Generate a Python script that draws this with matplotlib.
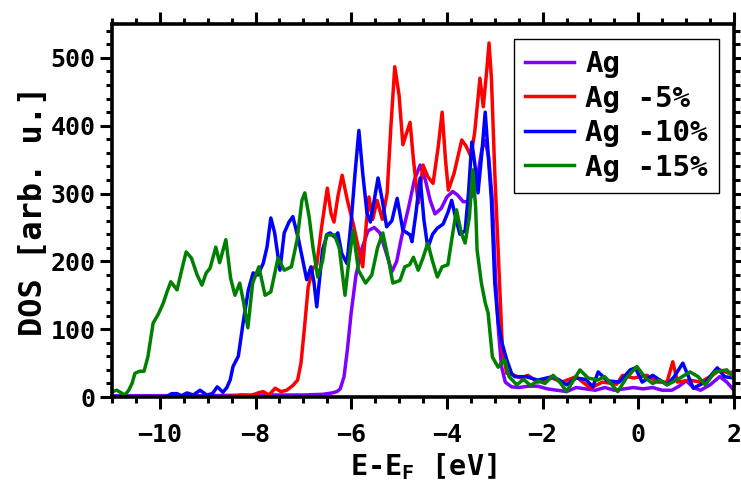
import matplotlib
matplotlib.use('Agg')
import matplotlib.pyplot as plt
from matplotlib.ticker import MultipleLocator

plt.rcParams['font.family'] = 'DejaVu Sans Mono'
plt.rcParams['font.weight'] = 'bold'
plt.rcParams['mathtext.default'] = 'regular'

# Ag (unstrained)
e_ag = [-11.0, -10.0, -9.0, -8.0, -7.5, -7.0, -6.6, -6.4, -6.3, -6.23, -6.15, -6.08, -6.0, -5.9,
        -5.78, -5.65, -5.52, -5.4, -5.28, -5.15, -5.05, -4.95, -4.8, -4.68, -4.56, -4.45, -4.35,
        -4.25, -4.12, -4.0, -3.88, -3.78, -3.66, -3.55, -3.45, -3.35, -3.27, -3.2, -3.13, -3.05,
        -2.98, -2.92, -2.86, -2.78, -2.65, -2.5, -2.3, -2.1, -1.9, -1.7, -1.5, -1.3, -1.1, -0.9,
        -0.7, -0.5, -0.3, -0.1, 0.1, 0.3, 0.5, 0.7, 0.85, 1.0, 1.15, 1.3, 1.5, 1.7, 1.85, 2.0]
dos_ag = [2, 2, 2, 3, 3, 3, 4, 6, 8, 12, 30, 70, 125, 180,
          218, 245, 250, 242, 215, 185, 200, 235, 280, 320, 342, 320, 290,
          270, 278, 295, 303, 298, 288, 288, 300, 330, 365, 378, 355, 290,
          170, 95, 45, 22, 15, 14, 16, 16, 12, 10, 8, 14, 12, 10,
          14, 10, 12, 14, 12, 14, 10, 10, 16, 24, 14, 10, 18, 30, 22, 10]

# Ag -5%
e_ag5 = [-11.0, -10.0, -9.0, -8.5, -8.3, -8.1, -7.95, -7.84, -7.72, -7.59, -7.47, -7.35, -7.22,
         -7.12, -7.05, -6.98, -6.9, -6.8, -6.72, -6.62, -6.5, -6.42, -6.36, -6.28, -6.19, -6.08,
         -5.96, -5.85, -5.76, -5.68, -5.63, -5.55, -5.46, -5.35, -5.25, -5.17, -5.09, -5.0, -4.92,
         -4.84, -4.77, -4.7, -4.6, -4.5, -4.4, -4.29, -4.18, -4.1, -4.03, -3.97, -3.85, -3.69,
         -3.6, -3.5, -3.42, -3.31, -3.24, -3.17, -3.12, -3.07, -3.0, -2.95, -2.9, -2.84, -2.75,
         -2.6, -2.45, -2.31, -2.1, -1.8, -1.6, -1.3, -1.0, -0.75, -0.45, -0.33, -0.1, 0.18, 0.4,
         0.6, 0.72, 0.82, 1.08, 1.3, 1.55, 1.7, 1.9, 2.0]
dos_ag5 = [0, 0, 0, 1, 3, 2, 6, 8, 3, 13, 8, 10, 17,
           25, 50, 100, 162, 190, 195, 250, 308, 270, 258, 295, 327, 290,
           256, 220, 192, 260, 295, 262, 290, 262, 300, 400, 487, 445, 372,
           390, 405, 350, 286, 342, 325, 315, 370, 420, 350, 305, 330, 379,
           370, 355, 390, 470, 428, 480, 522, 470, 330, 250, 168, 69, 35,
           32, 28, 32, 22, 28, 22, 30, 13, 22, 19, 32, 28, 32, 22,
           22, 52, 22, 25, 22, 32, 40, 35, 38]

# Ag -10%
e_ag10 = [-11.0, -10.0, -9.85, -9.75, -9.64, -9.55, -9.43, -9.3, -9.16, -9.02, -8.9, -8.8, -8.68,
          -8.6, -8.53, -8.47, -8.36, -8.26, -8.15, -8.05, -7.95, -7.84, -7.76, -7.68, -7.6, -7.49,
          -7.4, -7.3, -7.22, -7.1, -6.93, -6.84, -6.78, -6.72, -6.6, -6.5, -6.44, -6.35, -6.28,
          -6.2, -6.09, -6.0, -5.92, -5.84, -5.76, -5.67, -5.6, -5.52, -5.44, -5.35, -5.26, -5.15,
          -5.04, -4.92, -4.77, -4.73, -4.65, -4.56, -4.48, -4.4, -4.3, -4.2, -4.08, -3.98, -3.9,
          -3.82, -3.73, -3.62, -3.55, -3.48, -3.42, -3.35, -3.27, -3.2, -3.14, -3.07, -3.0, -2.93,
          -2.85, -2.75, -2.65, -2.58, -2.35, -2.1, -1.8, -1.65, -1.5, -1.3, -1.1, -0.95, -0.84,
          -0.65, -0.4, -0.17, -0.06, 0.08, 0.3, 0.6, 0.75, 0.93, 1.15, 1.4, 1.65, 1.8, 2.0]
dos_ag10 = [0, 0, 1, 5, 5, 2, 6, 3, 10, 3, 5, 15, 7,
            14, 25, 45, 60, 109, 158, 183, 180, 197, 221, 264, 242, 187,
            242, 258, 266, 232, 173, 192, 170, 133, 217, 240, 242, 236, 242,
            212, 197, 260, 330, 393, 330, 271, 258, 290, 323, 290, 251, 260,
            293, 246, 239, 229, 270, 323, 261, 220, 240, 249, 255, 272, 290,
            265, 240, 245, 300, 376, 345, 301, 360, 420, 360, 290, 168, 110,
            80, 55, 35, 30, 30, 25, 30, 25, 18, 28, 26, 15, 37,
            24, 22, 40, 43, 22, 32, 18, 30, 50, 13, 22, 43, 30, 28]

# Ag -15%
e_ag15 = [-11.0, -10.9, -10.8, -10.73, -10.65, -10.58, -10.52, -10.42, -10.33, -10.25, -10.14,
          -10.04, -9.93, -9.85, -9.77, -9.64, -9.55, -9.45, -9.34, -9.22, -9.12, -9.03, -8.95,
          -8.83, -8.75, -8.62, -8.52, -8.43, -8.33, -8.25, -8.16, -8.06, -7.93, -7.8, -7.68, -7.53,
          -7.4, -7.25, -7.13, -7.03, -6.97, -6.88, -6.8, -6.7, -6.6, -6.52, -6.35, -6.25, -6.13,
          -6.05, -5.96, -5.85, -5.7, -5.57, -5.45, -5.34, -5.22, -5.13, -4.98, -4.88, -4.78, -4.7,
          -4.6, -4.5, -4.4, -4.3, -4.2, -4.1, -3.98, -3.9, -3.8, -3.7, -3.62, -3.53, -3.46, -3.4,
          -3.37, -3.28, -3.2, -3.14, -3.05, -2.93, -2.84, -2.79, -2.7, -2.54, -2.4, -2.25, -2.1,
          -1.95, -1.78, -1.62, -1.5, -1.22, -1.05, -0.85, -0.7, -0.55, -0.43, -0.25, -0.03, 0.15,
          0.3, 0.45, 0.6, 0.8, 1.08, 1.25, 1.4, 1.6, 1.85, 2.0]
dos_ag15 = [8, 10, 6, 3, 10, 20, 35, 38, 38, 59, 109,
            121, 138, 155, 170, 158, 185, 214, 205, 180, 165, 183, 190,
            221, 198, 232, 175, 150, 168, 140, 102, 168, 192, 150, 155, 205,
            187, 192, 232, 290, 301, 266, 221, 177, 200, 239, 239, 220, 150,
            200, 246, 187, 168, 180, 220, 242, 202, 168, 172, 192, 195, 206,
            187, 205, 227, 200, 177, 192, 195, 232, 276, 242, 227, 266, 335, 280,
            217, 168, 139, 124, 59, 44, 52, 55, 30, 18, 26, 17, 24,
            20, 32, 20, 8, 40, 28, 25, 30, 18, 8, 28, 45, 28,
            20, 25, 18, 25, 37, 30, 18, 37, 40, 28]

fig = plt.figure(figsize=(7.41, 4.83), dpi=100)
ax = fig.add_axes([0.1511, 0.178, 0.8395, 0.7723])

lw = 2.5
ax.plot(e_ag, dos_ag, color='#8000ff', lw=lw, label='Ag', solid_joinstyle='round')
ax.plot(e_ag5, dos_ag5, color='red', lw=lw, label='Ag -5%', solid_joinstyle='round')
ax.plot(e_ag10, dos_ag10, color='blue', lw=lw, label='Ag -10%', solid_joinstyle='round')
ax.plot(e_ag15, dos_ag15, color='green', lw=lw, label='Ag -15%', solid_joinstyle='round')

ax.set_xlim(-11, 2)
ax.set_ylim(0, 550)
ax.xaxis.set_major_locator(MultipleLocator(2))
ax.xaxis.set_minor_locator(MultipleLocator(0.5))
ax.yaxis.set_major_locator(MultipleLocator(100))
ax.yaxis.set_minor_locator(MultipleLocator(20))
ax.tick_params(which='both', direction='out', top=True, right=True, width=2.2,
               labelsize=18)
ax.tick_params(which='major', length=8.5)
ax.tick_params(which='minor', length=4.5)
ax.tick_params(axis='x', which='major', pad=10)
for s in ax.spines.values():
    s.set_linewidth(2.6)

ax.set_xlabel('E-E$_F$ [eV]', fontsize=20.5, fontweight='bold', labelpad=3)
ax.set_ylabel('DOS [arb. u.]', fontsize=23, fontweight='bold', labelpad=2)

leg = ax.legend(loc='upper right', fontsize=21, fancybox=False, framealpha=1,
                edgecolor='black', handlelength=1.65, handletextpad=0.4,
                labelspacing=0.22)
leg.get_frame().set_linewidth(1.0)

fig.savefig('out.png', dpi=100)
